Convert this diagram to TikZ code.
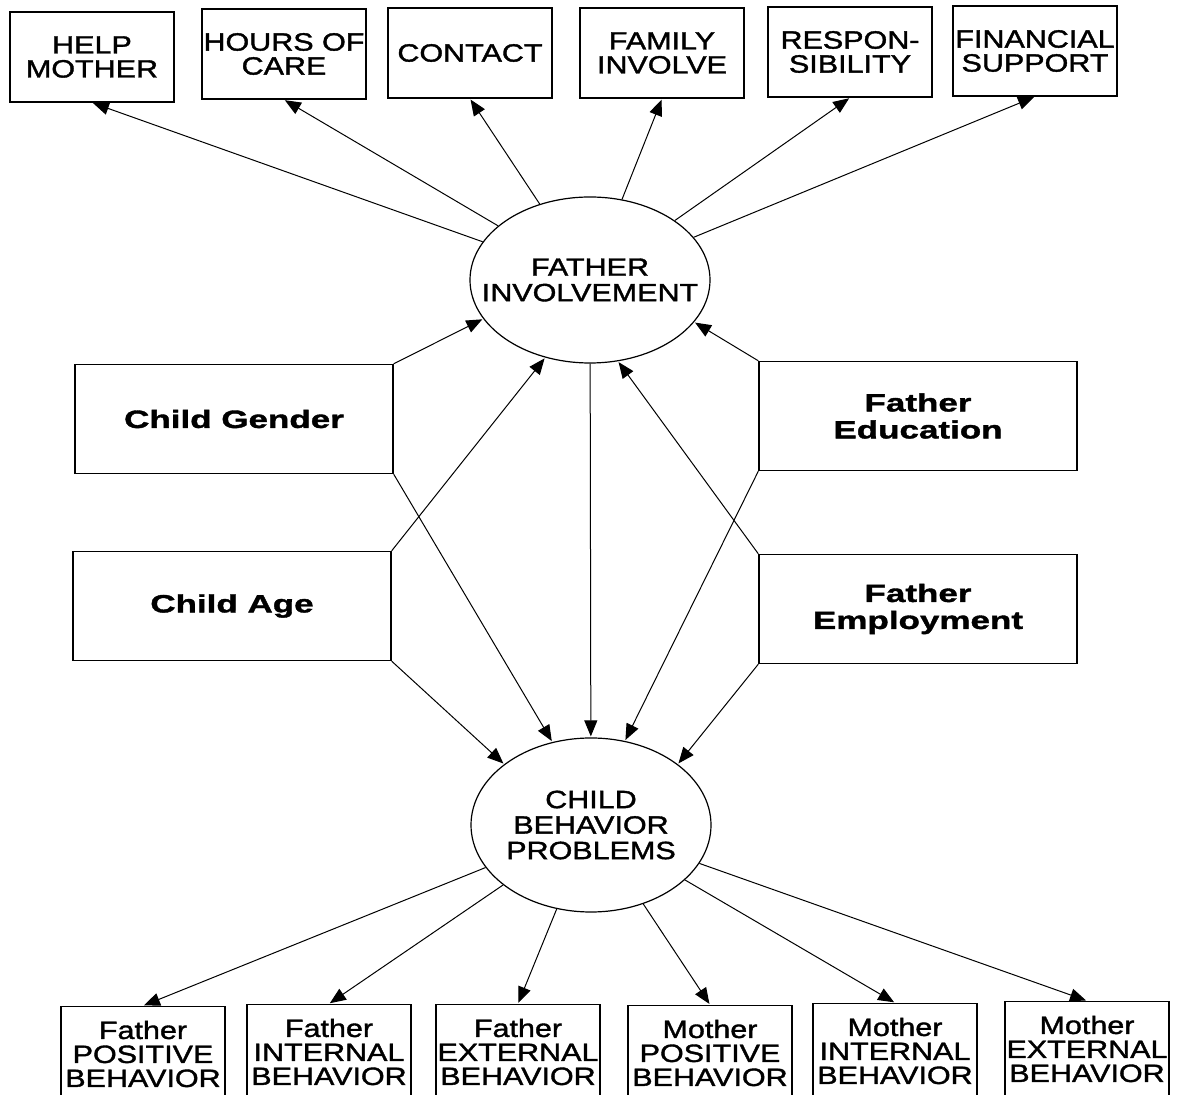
\documentclass[tikz,border=0pt]{standalone}
\usepackage{fontspec}
\setmainfont{Liberation Sans}
\newfontfamily\boxfont[FakeStretch=1.22,FakeBold=1.5]{Liberation Sans}
\newfontfamily\covfont[FakeStretch=1.4,FakeBold=1.5]{Liberation Sans}
\usetikzlibrary{arrows.meta,shapes.geometric}
\tikzset{
  indicator/.style={draw, line width=0.7pt, minimum width=82pt, minimum height=45pt,
    inner sep=0pt, align=center, font=\boxfont\fontsize{12.5pt}{12pt}\selectfont},
  covariate/.style={draw, line width=0.7pt, minimum width=159pt, minimum height=54.5pt,
    inner sep=0pt, align=center, font=\covfont\fontsize{12.5pt}{13.5pt}\selectfont\bfseries},
  latent/.style={draw, ellipse, line width=0.6pt, inner xsep=-25pt, inner ysep=0pt, align=center,
    font=\boxfont\fontsize{12.5pt}{12.75pt}\selectfont},
  effect/.style={-{Triangle[length=8pt,width=6.5pt]}, line width=0.5pt, shorten >=0.5pt}
}
\begin{document}
\begin{tikzpicture}
% one unit = one pixel of the 1184x1095 sheet, y running down
\def\pxsz{0.5pt}
\begin{scope}[x=\pxsz, y=-\pxsz]
  \useasboundingbox (0,0) rectangle (1184,1095);
  % Latent variables
  \node[latent, minimum width=120pt, minimum height=83pt] (fi) at (590,280) {FATHER\\INVOLVEMENT};
  \node[latent, minimum width=120pt, minimum height=87pt] (cbp) at (591,825) {CHILD\\BEHAVIOR\\PROBLEMS};
  % Father involvement indicators
  \node[indicator] (hm) at (92,57) {HELP\\MOTHER};
  \node[indicator] (hc) at (284,54) {HOURS OF\\CARE};
  \node[indicator] (ct) at (470,53) {CONTACT};
  \node[indicator] (fa) at (662,53) {FAMILY\\INVOLVE};
  \node[indicator] (rs) at (850,52) {RESPON-\\SIBILITY};
  \node[indicator] (fs) at (1035,51) {FINANCIAL\\SUPPORT};
  % Covariates
  \node[covariate] (cg) at (234,419) {Child Gender};
  \node[covariate] (ca) at (232,606) {Child Age};
  \node[covariate] (fe) at (918,416) {Father\\Education};
  \node[covariate] (fm) at (918,609) {Father\\Employment};
  % Behavior indicators
  \node[indicator, minimum height=47.5pt] (fp) at (143,1054) {Father\\POSITIVE\\BEHAVIOR};
  \node[indicator, minimum height=47.5pt] (fn) at (329,1052) {Father\\INTERNAL\\BEHAVIOR};
  \node[indicator, minimum height=47.5pt] (fx) at (518,1052) {Father\\EXTERNAL\\BEHAVIOR};
  \node[indicator, minimum height=47.5pt] (mp) at (710,1053) {Mother\\POSITIVE\\BEHAVIOR};
  \node[indicator, minimum height=47.5pt] (mn) at (895,1051) {Mother\\INTERNAL\\BEHAVIOR};
  \node[indicator, minimum height=47.5pt] (mx) at (1087,1049) {Mother\\EXTERNAL\\BEHAVIOR};
  % Measurement paths
  \foreach \ind in {hm,hc,ct,fa,rs,fs}
    \draw[effect] (fi) -- (\ind.south);
  \foreach \ind in {fp,fn,fx,mp,mn,mx}
    \draw[effect] (cbp) -- (\ind.north);
  % Structural paths
  \draw[effect] (cg.north east) -- (fi.200);
  \draw[effect] (ca.north east) -- (fi.240);
  \draw[effect] (fe.north west) -- (fi.338);
  \draw[effect] (fm.north west) -- (fi.289);
  \draw[effect] (cg.south east) -- (cbp.115);
  \draw[effect] (ca.south east) -- (cbp.145);
  \draw[effect] (fe.south west) -- (cbp.68);
  \draw[effect] (fm.south west) -- (cbp.35);
  \draw[effect] (fi) -- (cbp);
\end{scope}
\end{tikzpicture}
\end{document}
